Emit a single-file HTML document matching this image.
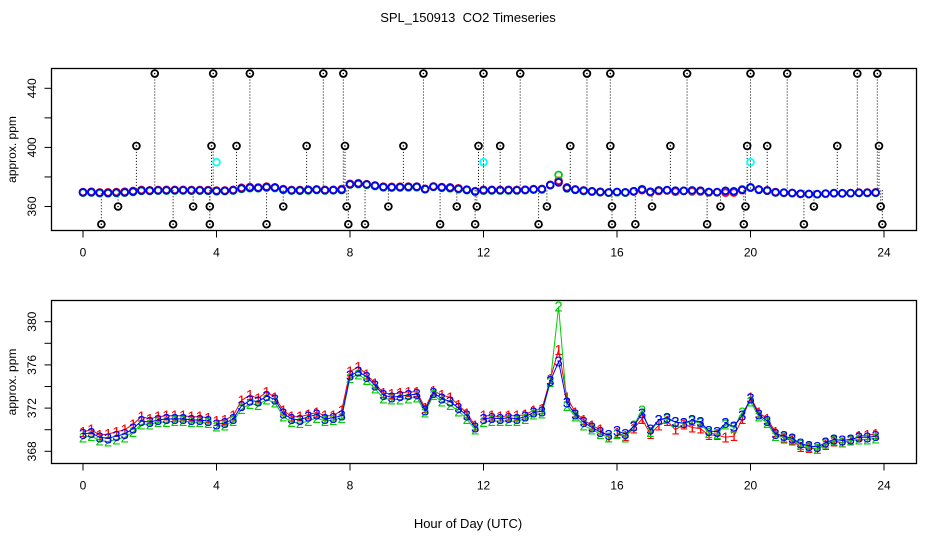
<!DOCTYPE html>
<html><head><meta charset="utf-8"><style>
html,body{margin:0;padding:0;background:#fff;}
svg{display:block;font-family:"Liberation Sans",sans-serif;}
</style></head><body>
<svg id="chart" width="936" height="540" viewBox="0 0 936 540">
<text x="468" y="22" text-anchor="middle" font-size="13">SPL_150913&#160; CO2 Timeseries</text>
<text x="468" y="528" text-anchor="middle" font-size="13">Hour of Day (UTC)</text>
<g id="top"></g>
<g id="bot"></g>
</svg>
<script>
const xTicks = [0,4,8,12,16,20,24];
const topYTicks = [360,380,400,420,440];
const topYLabels = [360,400,440];
const botYTicks = [368,370,372,374,376,378,380];
const botYLabels = [368,372,376,380];
const hours = [0,0.25,0.5,0.75,1,1.25,1.5,1.75,2,2.25,2.5,2.75,3,3.25,3.5,3.75,4,4.25,4.5,4.75,5,5.25,5.5,5.75,6,6.25,6.5,6.75,7,7.25,7.5,7.75,8,8.25,8.5,8.75,9,9.25,9.5,9.75,10,10.25,10.5,10.75,11,11.25,11.5,11.75,12,12.25,12.5,12.75,13,13.25,13.5,13.75,14,14.25,14.5,14.75,15,15.25,15.5,15.75,16,16.25,16.5,16.75,17,17.25,17.5,17.75,18,18.25,18.5,18.75,19,19.25,19.5,19.75,20,20.25,20.5,20.75,21,21.25,21.5,21.75,22,22.25,22.5,22.75,23,23.25,23.5,23.75];
const series1 = [369.8,370.0,369.5,369.6,369.8,370.0,370.5,371.2,371.0,371.2,371.3,371.3,371.3,371.2,371.2,371.1,370.8,370.9,371.3,372.7,373.2,372.9,373.5,373.0,371.8,371.2,371.2,371.4,371.6,371.3,371.3,371.8,375.4,375.8,375.1,374.3,373.4,373.3,373.4,373.5,373.5,372.0,373.6,373.2,373.0,372.3,371.5,370.4,371.3,371.3,371.2,371.3,371.3,371.4,371.8,371.9,374.7,377.4,373.0,371.6,370.9,370.4,370.0,369.3,369.7,369.4,370.1,371.0,369.6,370.4,370.8,370.0,370.5,370.2,370.1,369.5,369.5,369.3,369.4,371.0,373.0,371.6,371.0,369.8,369.2,369.0,368.4,368.3,368.2,368.6,368.9,368.8,369.0,369.4,369.5,369.6];
const series2 = [369.3,369.4,369.0,368.9,369.1,369.3,369.8,370.5,370.5,370.7,370.7,370.8,370.8,370.7,370.7,370.6,370.3,370.4,370.8,371.9,372.4,372.3,372.8,372.5,371.2,370.7,370.6,370.8,371.1,370.8,370.9,371.1,374.8,375.1,374.6,373.8,372.9,372.8,372.8,372.9,373.0,371.6,373.2,372.6,372.3,371.7,371.0,370.0,370.7,370.8,370.8,370.8,370.8,371.0,371.4,371.5,374.4,381.4,372.2,371.2,370.4,370.0,369.6,369.3,369.6,369.3,370.4,371.8,369.8,370.9,371.0,370.7,370.6,370.8,370.6,369.7,369.6,370.5,370.2,371.6,372.6,371.2,370.6,369.4,369.3,369.1,368.6,368.4,368.2,368.7,369.0,368.8,369.0,369.1,369.1,369.2];
const series3 = [369.6,369.7,369.3,369.2,369.4,369.6,370.1,370.8,370.7,370.9,371.0,371.0,371.0,370.9,370.9,370.8,370.5,370.6,371.0,372.2,372.7,372.6,373.1,372.8,371.5,371.0,370.9,371.2,371.4,371.0,371.1,371.3,375.0,375.4,374.9,374.1,373.2,373.0,373.1,373.2,373.3,371.8,373.4,372.9,372.6,372.0,371.3,370.2,371.0,371.1,371.0,371.1,371.0,371.2,371.6,371.7,374.5,376.3,372.5,371.4,370.7,370.2,369.8,369.5,369.9,369.6,370.3,371.5,370.0,370.9,371.1,370.7,370.6,370.9,370.7,369.9,369.8,370.6,370.3,371.3,372.9,371.4,370.8,369.6,369.4,369.2,368.7,368.5,368.4,368.8,369.1,369.0,369.1,369.3,369.3,369.4];
const outlierHours = [2.15,3.9,5.0,7.2,7.8,10.2,12.0,13.1,15.1,15.8,18.1,20.0,21.1,23.2,23.8, 1.6,3.85,4.6,6.7,7.85,9.6,11.85,12.5,14.6,15.8,17.6,19.9,20.5,22.6,23.85, 1.05,3.3,3.8,6.0,7.9,9.15,11.2,11.8,13.9,15.85,17.05,19.1,19.85,21.9,23.9, 0.55,2.7,3.8,5.5,7.95,8.45,10.7,11.75,13.65,15.85,16.55,18.7,19.8,21.6,23.95];
const outlierValues = [450,450,450,450,450,450,450,450,450,450,450,450,450,450,450, 401,401,401,401,401,401,401,401,401,401,401,401,401,401,401, 360,360,360,360,360,360,360,360,360,360,360,360,360,360,360, 348,348,348,348,348,348,348,348,348,348,348,348,348,348,348];
const calHours = [4.0,12.0,20.0];
const calValues = [390,390,390];

const NS='http://www.w3.org/2000/svg';
function mk(parent,tag,attrs){const e=document.createElementNS(NS,tag);for(const k in attrs)e.setAttribute(k,attrs[k]);parent.appendChild(e);return e;}
const xS = h => 83 + h*(884-83)/24;
const yTop = v => 206.5 - (v-360)*(206.5-88.3)/80;
const yBot = v => 451.3 - (v-368)*(451.3-321.7)/12;
const breaks = [4,12,16];

function frame(g, top, bot, yS, ticks, labels, name){
  const box = mk(g,'rect',{x:51.5,y:top,width:865,height:bot-top,fill:'none',stroke:'#000','stroke-width':1.3});
  
  
  const ax = mk(g,'line',{x1:xS(0),x2:xS(24),y1:bot,y2:bot,stroke:'#000'});
  
  
  xTicks.forEach(t=>{
    mk(g,'line',{x1:xS(t),x2:xS(t),y1:bot,y2:bot+7,stroke:'#000'});
    const tx = mk(g,'text',{x:xS(t),y:bot+26,'text-anchor':'middle','font-size':12});
    tx.textContent=t;
    
    
  });
  ticks.forEach(v=>{ mk(g,'line',{x1:44.5,x2:51.5,y1:yS(v),y2:yS(v),stroke:'#000'}); });
  labels.forEach(v=>{
    const tx = mk(g,'text',{x:0,y:0,'text-anchor':'middle','font-size':12,transform:`translate(36,${yS(v)}) rotate(-90)`});
    tx.textContent=v;
    
    
  });
  const yl = mk(g,'text',{x:0,y:0,'text-anchor':'middle','font-size':12,transform:`translate(16,${(top+bot)/2}) rotate(-90)`});
  yl.textContent='approx. ppm';
  
  
}

// top panel
const gt=document.getElementById('top');
frame(gt,68.5,230.5,yTop,topYTicks,topYLabels,'top');
outlierHours.forEach((h,i)=>{
  const v=outlierValues[i];
  mk(gt,'line',{x1:xS(h),x2:xS(h),y1:yTop(v),y2:yTop(371),stroke:'#000','stroke-dasharray':'1,2','stroke-width':1});
});
[[series1,'#f00'],[series2,'#0c0'],[series3,'#00f']].forEach(([s,c],k)=>{
  s.forEach((v,i)=>{
    const ci = mk(gt,'circle',{cx:xS(hours[i]),cy:yTop(v),r:3.4,fill:'none',stroke:c,'stroke-width':1.8});
    
    
  });
});
outlierHours.forEach((h,i)=>{
  const ci = mk(gt,'circle',{cx:xS(h),cy:yTop(outlierValues[i]),r:3.4,fill:'#fff',stroke:'#000','stroke-width':1.8});
  
  
  mk(gt,'circle',{cx:xS(h),cy:yTop(outlierValues[i]),r:0.8,fill:'#000'});
});
calHours.forEach((h,i)=>{
  const ci = mk(gt,'circle',{cx:xS(h),cy:yTop(calValues[i]),r:3.4,fill:'none',stroke:'#0ff','stroke-width':1.8});
  
  
});

// bottom panel
const gb=document.getElementById('bot');
frame(gb,300.5,463.5,yBot,botYTicks,botYLabels,'bottom');
[[series1,'#f00','1'],[series2,'#0c0','2'],[series3,'#00f','3']].forEach(([s,c,lab],k)=>{
  let d='';
  s.forEach((v,i)=>{
    const cmd = (i===0 || breaks.includes(hours[i])) ? 'M' : 'L';
    d += cmd + xS(hours[i]).toFixed(1) + ',' + yBot(v).toFixed(1) + ' ';
  });
  const p = mk(gb,'path',{d:d,fill:'none',stroke:c,'stroke-width':1});
  
  
  s.forEach((v,i)=>{
    const t = mk(gb,'text',{x:xS(hours[i]),y:yBot(v)+5,'text-anchor':'middle','font-size':15,fill:c});
    t.textContent=lab;
    
    
  });
});
</script>
</body></html>
